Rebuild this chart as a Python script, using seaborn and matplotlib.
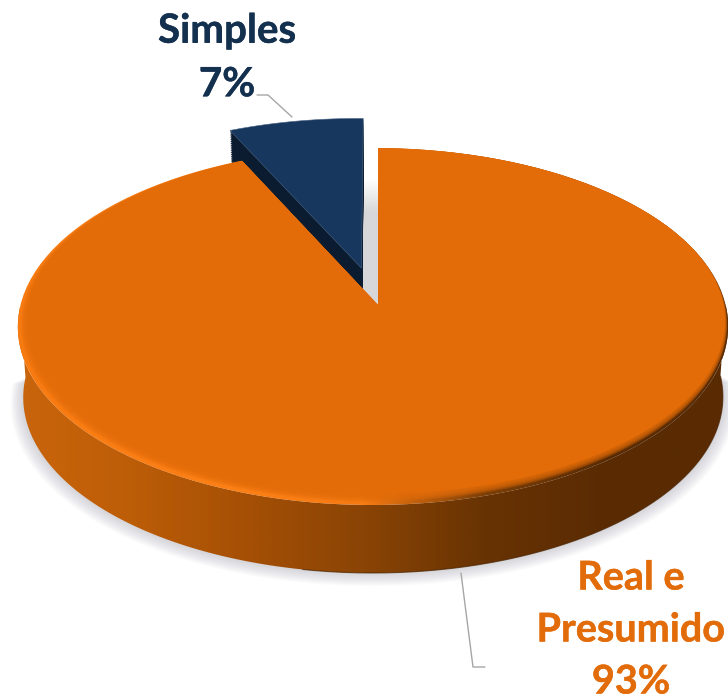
import matplotlib
matplotlib.use("Agg")
import matplotlib.patheffects as pe
import matplotlib.pyplot as plt
import numpy as np
import seaborn as sns
from matplotlib.colors import LinearSegmentedColormap
from matplotlib.patches import Polygon
from matplotlib.transforms import Affine2D

# data
labels = ["Real e\nPresumido", "Simples"]
shares = [93, 7]
explode = [0, 0.22]

# colours
palette = sns.color_palette(["#E36C09", "#17375E"])
navy_side = "#0B1C30"
navy_text = "#14304F"
orange_text = "#E36C0A"
side_stops = ["#CB660C", "#BE5E08", "#A65005", "#8A4405", "#683303", "#5A2B03", "#5A2B03"]
rim_stops = ["#F87B12", "#FB7E14", "#FC8015", "#F57A12", "#7D3F06", "#5A2B03", "#5A2B03"]

# perspective of the pie, in picture pixels
W, H = 728, 699
CX, APEX_Y = 378, 305
A, B, TILT, TILT_U = 352.5, 175.9, 0.1204, 0.014
DEPTH, SHRINK = 71, 0.985


def project(pts, depth=0.0, grow=1.0):
    u, v = pts[:, 0], pts[:, 1]
    den = 1 + TILT * v + TILT_U * u
    k = 1 + (SHRINK - 1) * depth
    x = CX + A * u * k * grow / den
    y = APEX_Y - B * v * k * grow / den + DEPTH * depth
    return np.column_stack([x, y])


def wedge_points(wedge):
    # flatten the pie wedge, scaled up so the curve keeps its resolution
    return wedge.get_path().to_polygons(Affine2D().scale(500))[0] / 500


def gradient_fill(ax, stops, clip_pts):
    clip = Polygon(clip_pts, closed=True, fc="none", ec="none")
    ax.add_patch(clip)
    cmap = LinearSegmentedColormap.from_list("grad", stops)
    im = ax.imshow(np.linspace(0, 1, 512)[None, :], cmap=cmap, aspect="auto",
                   extent=(0, W, H, 0))
    im.set_clip_path(clip)
    return im


sns.set_theme(style="white")
plt.rcParams["font.family"] = ["Lato", "DejaVu Sans"]

fig = plt.figure(figsize=(W / 100, H / 100), dpi=100)
ax = fig.add_axes([0, 0, 1, 1])

wedges, _ = ax.pie(shares, explode=explode, colors=palette, startangle=90, counterclock=False)
orange_pts = wedge_points(wedges[0])
navy_pts = wedge_points(wedges[1])
for w in wedges:
    w.remove()
ax.set_aspect("auto")

phi = np.linspace(0, 2 * np.pi, 721)
circle = np.column_stack([np.cos(phi), np.sin(phi)])
front = circle[:, 1] <= 0
order = np.argsort(circle[front][:, 0])

# soft shadow on the ground, front half only so it stays out of the gap
for i in range(12, 0, -1):
    ring = project(circle[front][order], depth=1, grow=1 + 0.003 * i)
    ring[:, 1] += 0.5 * i
    ax.fill(ring[:, 0], ring[:, 1], color="#8E8E9C", alpha=0.03, lw=0, zorder=1)

# shadow of the pulled out slice, seen through the gap
for i in range(20):
    shade = project(navy_pts, depth=0.8)
    shade[:, 0] += 16
    shade[:, 1] += 3 + 1.6 * i
    ax.fill(shade[:, 0], shade[:, 1], color="#8E8E9C", alpha=0.016, lw=0, zorder=1)

# pulled out slice: extruded wall then the top
for z in np.linspace(1, 0.02, 40):
    wall = project(navy_pts, depth=z)
    ax.fill(wall[:, 0], wall[:, 1], color=navy_side, lw=0, zorder=2)
navy_top = project(navy_pts)
ax.fill(navy_top[:, 0], navy_top[:, 1], color=palette[1], ec="#4A6484", lw=0.4, zorder=3)

# big slice: outer wall with the light falling off to the right
top_edge = project(circle[front][order])
low_edge = project(circle[front][order], depth=1)
im = gradient_fill(ax, side_stops, np.vstack([top_edge, low_edge[::-1]]))
im.set_zorder(4)
edge = low_edge[low_edge[:, 0] > 300]
ax.plot(edge[:, 0], edge[:, 1], color="#4A2302", lw=0.8, alpha=0.7, zorder=4)

# bevel on the top of the big slice, fading into the flat face
orange_top = project(orange_pts)
rim = gradient_fill(ax, rim_stops, orange_top)
rim.set_zorder(5)
clip_top = Polygon(orange_top, closed=True, fc="none", ec="none")
ax.add_patch(clip_top)
for t in np.linspace(0.3, 1.0, 8):
    inner = np.column_stack([circle[:, 0] * (1 - 0.016 * t) + 0.01 * t,
                             circle[:, 1] * (1 - 0.025 * t) + 0.025 * t])
    inner = project(inner)
    alpha = 1.0 if t == 1.0 else 0.28
    poly = ax.fill(inner[:, 0], inner[:, 1], color=palette[0], alpha=alpha, lw=0, zorder=6)[0]
    poly.set_clip_path(clip_top)

# leader lines
ax.plot([257, 268, 292], [95, 95, 117], color="#A6A6A6", lw=1, zorder=7)
ax.plot([461, 473, 485], [573, 667, 667], color="#A6A6A6", lw=1, zorder=7)

# labels
ax.text(227, 58, f"{labels[1]}\n{shares[1]}%", color=navy_text, fontsize=29,
        fontweight="bold", ha="center", va="center", linespacing=1.55, zorder=8,
        path_effects=[pe.withStroke(linewidth=0.3, foreground=navy_text)])
ax.text(631, 630, f"{labels[0]}\n{shares[0]}%", color=orange_text, fontsize=28.5,
        fontweight="bold", ha="center", va="center", linespacing=1.5, zorder=8,
        path_effects=[pe.withStroke(linewidth=0.3, foreground=orange_text)])

ax.set_xlim(0, W)
ax.set_ylim(H, 0)
ax.axis("off")

fig.savefig("out.png", dpi=100, facecolor="white")
